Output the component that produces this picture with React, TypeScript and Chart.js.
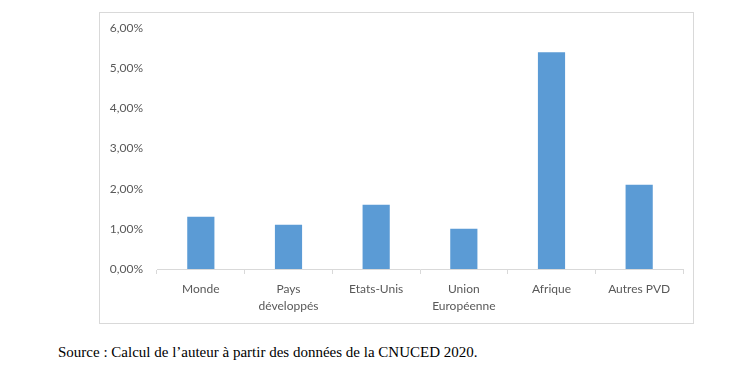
import React, { useEffect, useRef } from "react";
import { Chart, registerables } from "chart.js";

Chart.register(...registerables);

const categories: (string | string[])[] = [
  "Monde",
  ["Pays", "développés"],
  "Etats-Unis",
  ["Union", "Européenne"],
  "Afrique",
  "Autres PVD",
];
const values: number[] = [1.3, 1.1, 1.6, 1.0, 5.4, 2.1];
const yTicks: number[] = [0, 1, 2, 3, 4, 5, 6];
const sourceText = "Source : Calcul de l’auteur à partir des données de la CNUCED 2020.";

const fmt = (v: number) => v.toFixed(2).replace(".", ",") + "%";

export default function App() {
  const ref = useRef<HTMLCanvasElement | null>(null);
  useEffect(() => {
    if (!ref.current) return;
    const chart = new Chart(ref.current, {
      type: "bar",
      data: {
        labels: categories,
        datasets: [
          {
            data: values,
            backgroundColor: "#5b9bd5",
            borderColor: "#5b9bd5",
            borderWidth: 0,
            categoryPercentage: 1,
            barPercentage: 0.31,
          },
        ],
      },
      options: {
        responsive: false,
        animation: false,
        events: [],
        layout: { padding: { top: 10, right: 10, left: 0, bottom: 0 } },
        plugins: { legend: { display: false }, tooltip: { enabled: false } },
        scales: {
          x: {
            grid: {
              display: true,
              drawOnChartArea: false,
              offset: true,
              tickLength: 5,
              color: "#d9d9d9",
            },
            border: { display: true, color: "#d9d9d9", width: 1 },
            ticks: {
              color: "#595959",
              font: { family: "Lato", size: 12, lineHeight: 1.4 },
              padding: 7,
              maxRotation: 0,
              autoSkip: false,
            },
            afterFit: (s: any) => {
              s.height = 54;
            },
          },
          y: {
            min: 0,
            max: 6,
            afterBuildTicks: (s: any) => {
              s.ticks = yTicks.map((v) => ({ value: v }));
            },
            grid: { display: false, drawTicks: false },
            border: { display: false },
            ticks: {
              color: "#595959",
              font: { family: "Lato", size: 12 },
              padding: 14,
              callback: (v: any) => fmt(Number(v)),
            },
            afterFit: (s: any) => {
              s.width = 57;
            },
          },
        },
      },
    });
    return () => chart.destroy();
  }, []);

  return (
    <div style={{ position: "absolute", left: 0, top: 0, width: 754, height: 383, background: "#fff" }}>
      <div
        style={{
          position: "absolute",
          left: 99,
          top: 12,
          width: 593,
          height: 310,
          border: "1px solid #d9d9d9",
        }}
      />
      <canvas
        ref={ref}
        width={593}
        height={316}
        style={{ position: "absolute", left: 100, top: 7, display: "block", width: 593, height: 316 }}
      />
      <div
        style={{
          position: "absolute",
          left: 58,
          top: 344,
          fontFamily: "'Liberation Serif', 'Times New Roman', serif",
          fontSize: 15,
          color: "#000",
          whiteSpace: "nowrap",
        }}
      >
        {sourceText}
      </div>
    </div>
  );
}
